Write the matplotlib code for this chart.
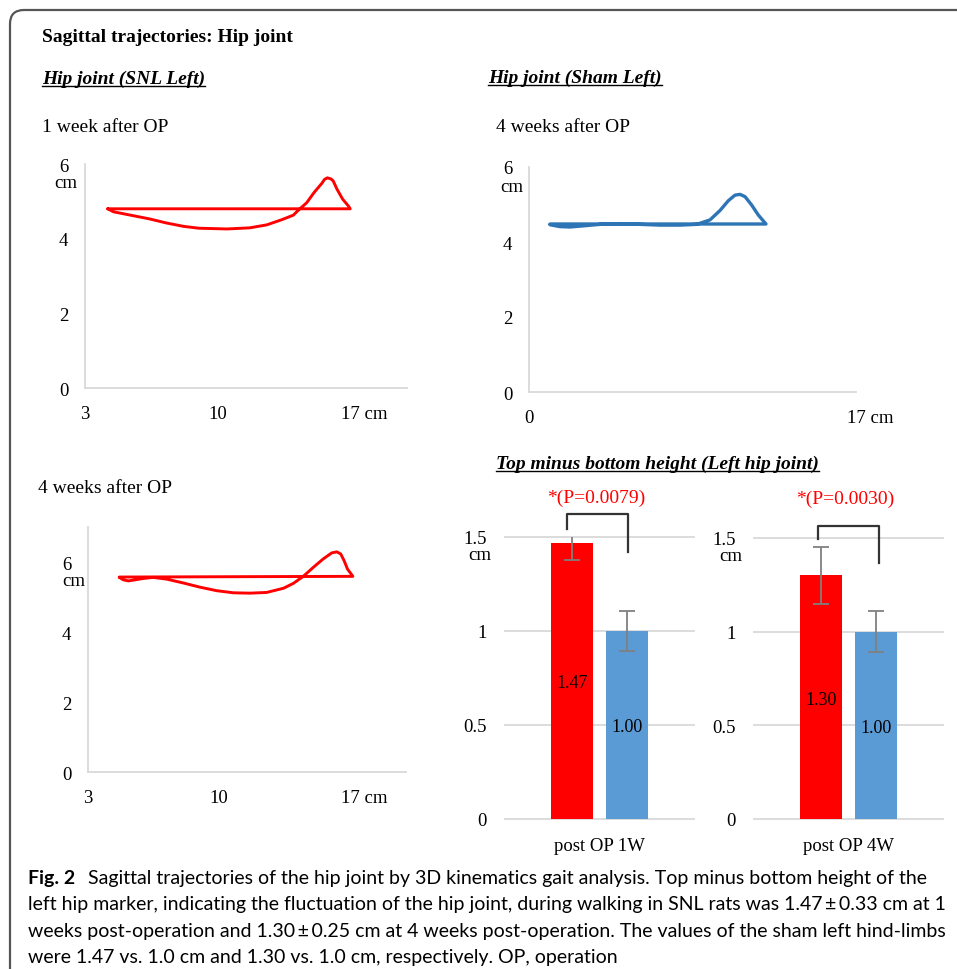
import matplotlib
matplotlib.use('Agg')
import matplotlib.pyplot as plt
from matplotlib.patches import FancyBboxPatch
from matplotlib.lines import Line2D
from matplotlib.transforms import IdentityTransform, ScaledTranslation

# hip marker path, SNL left, 1 week after OP (forward position / height, cm)
snl1w_x = [4.2, 4.5, 5.5, 6.4, 7.3, 8.2, 9.0, 10.5, 11.7, 12.6, 13.4, 14.0, 14.3,
           14.7, 15.1, 15.5, 15.65, 15.8, 15.98, 16.1, 16.3, 16.6, 16.9, 17.0, 4.2]
snl1w_y = [4.80, 4.72, 4.62, 4.53, 4.42, 4.33, 4.28, 4.26, 4.29, 4.37, 4.51, 4.63, 4.78,
           4.96, 5.24, 5.48, 5.59, 5.63, 5.60, 5.55, 5.33, 5.06, 4.88, 4.80, 4.80]

# SNL left, 4 weeks after OP
snl4w_x = [4.67, 4.89, 5.16, 5.51, 5.96, 6.49, 7.21, 8.10, 8.99, 9.88, 10.77, 11.66, 12.55,
           13.45, 13.98, 14.51, 15.05, 15.58, 16.03, 16.30, 16.51, 16.69, 16.87, 17.16, 4.67]
snl4w_y = [5.56, 5.49, 5.46, 5.49, 5.53, 5.56, 5.51, 5.40, 5.28, 5.18, 5.12, 5.11, 5.13,
           5.25, 5.39, 5.59, 5.85, 6.09, 6.26, 6.29, 6.23, 6.04, 5.80, 5.59, 5.57]

# sham left, 4 weeks after OP
sham4w_x = [1.09, 1.61, 2.13, 2.82, 3.69, 4.73, 5.77, 6.81, 7.85, 8.72, 9.41, 9.93, 10.36,
            10.71, 10.97, 11.23, 11.57, 11.92, 12.32, 1.09]
sham4w_y = [4.46, 4.41, 4.40, 4.43, 4.47, 4.49, 4.47, 4.45, 4.45, 4.47, 4.59, 4.84, 5.10,
            5.25, 5.27, 5.21, 4.99, 4.72, 4.48, 4.48]

# top minus bottom height of the left hip (cm)
groups = ['post OP 1W', 'post OP 4W']
snl_mean = [1.47, 1.30]
snl_err = [0.09, 0.15]
sham_mean = [1.00, 1.00]
sham_err = [0.105, 0.11]
p_labels = ['*(P=0.0079)', '*(P=0.0030)']

caption_lines = [
    'Sagittal trajectories of the hip joint by 3D kinematics gait analysis. Top minus bottom height of the',
    'left hip marker, indicating the fluctuation of the hip joint, during walking in SNL rats was 1.47\u2009\u00b1\u20090.33 cm at 1',
    'weeks post-operation and 1.30\u2009\u00b1\u20090.25 cm at 4 weeks post-operation. The values of the sham left hind-limbs',
    'were 1.47 vs. 1.0 cm and 1.30 vs. 1.0 cm, respectively. OP, operation',
]

RED = '#ff0000'
BLUE_LINE = '#2e75b6'
BLUE_BAR = '#5b9bd5'
GRID = '#d9d9d9'

plt.rcParams['font.family'] = ['Liberation Serif', 'DejaVu Serif']
W, H = 957, 970
fig = plt.figure(figsize=(W / 100, H / 100), dpi=100)
renderer = fig.canvas.get_renderer()


def px_axes(left, top, right, bottom):
    return fig.add_axes([left / W, 1 - bottom / H, (right - left) / W, (bottom - top) / H])


def ftext(x, y, s, **kw):
    kw.setdefault('va', 'center_baseline')
    kw.setdefault('fontsize', 14)
    return fig.text(x / W, 1 - y / H, s, **kw)


def underlined(x, y, s):
    t = ftext(x, y, s, fontweight='bold', style='italic')
    bb = t.get_window_extent(renderer)
    fig.add_artist(Line2D([bb.x0, bb.x1], [bb.y0 + 1, bb.y0 + 1],
                          transform=IdentityTransform(), color='black', lw=1.0))


def shift_last_label(ax, dx_px):
    lbl = ax.get_xticklabels()[-1]
    lbl.set_ha('left')
    lbl.set_transform(lbl.get_transform() + ScaledTranslation(dx_px / 100, 0, fig.dpi_scale_trans))


def trajectory(box, x, y, color, lw, xlim, xticks, xlabels, ylim, cm_off):
    ax = px_axes(*box)
    ax.plot(x, y, color=color, lw=lw, solid_joinstyle='round', solid_capstyle='round')
    ax.set_xlim(xlim)
    ax.set_ylim(ylim)
    for s in ['top', 'right']:
        ax.spines[s].set_visible(False)
    for s in ['left', 'bottom']:
        ax.spines[s].set_color(GRID)
        ax.spines[s].set_linewidth(1.3)
    ax.set_xticks(xticks, xlabels)
    ax.set_yticks([0, 2, 4, 6])
    ax.tick_params(axis='both', length=0, labelsize=13.5)
    ax.tick_params(axis='y', pad=12)
    ax.tick_params(axis='x', pad=12.5)
    shift_last_label(ax, -9)
    ax.annotate('cm', xy=(0, 6), xycoords=('axes fraction', 'data'), xytext=cm_off,
                textcoords='offset pixels', ha='center', va='center', fontsize=13.5)
    return ax


def bar_panel(box, i, bracket, cm_dx):
    ax = px_axes(*box)
    for v in [0, 0.5, 1, 1.5]:
        ax.axhline(v, color=GRID, lw=1.3, zorder=0, clip_on=False)
    ax.bar(-0.145, snl_mean[i], width=0.225, color=RED, zorder=2)
    ax.bar(0.145, sham_mean[i], width=0.225, color=BLUE_BAR, zorder=2)
    ax.errorbar([-0.145, 0.145], [snl_mean[i], sham_mean[i]], yerr=[snl_err[i], sham_err[i]],
                fmt='none', ecolor='#808080', elinewidth=1.3, capsize=6, capthick=1.3, zorder=3)
    ax.text(-0.145, snl_mean[i] / 2, f'{snl_mean[i]:.2f}', ha='center', va='center_baseline', fontsize=13)
    ax.text(0.145, sham_mean[i] / 2, f'{sham_mean[i]:.2f}', ha='center', va='center_baseline', fontsize=13)
    ax.set_xlim(-0.5, 0.5)
    ax.set_ylim(0, 1.5)
    for s in ax.spines.values():
        s.set_visible(False)
    ax.set_yticks([0, 0.5, 1, 1.5], ['0', '0.5', '1', '1.5'])
    ax.set_xticks([0], [groups[i]])
    ax.tick_params(axis='both', length=0, labelsize=13.5)
    ax.tick_params(axis='y', pad=13)
    ax.tick_params(axis='x', pad=13)
    ax.annotate('cm', xy=(0, 1.5), xycoords=('axes fraction', 'data'), xytext=(cm_dx, -18),
                textcoords='offset pixels', ha='center', va='center', fontsize=13.5)
    x0, x1, top, left_end, right_end = bracket
    ax.plot([x0, x0, x1, x1], [left_end, top, top, right_end], color='#333333', lw=1.6,
            clip_on=False, zorder=4)
    ax.text(-0.02, 1.72, p_labels[i], ha='center', va='center_baseline', fontsize=14, color=RED)
    return ax


# outer frame
fig.add_artist(FancyBboxPatch((10, -60), 1000, H - 11 + 60,
                              boxstyle='round,pad=0,rounding_size=14',
                              transform=IdentityTransform(), fill=False,
                              edgecolor='#555555', lw=1.6))

ftext(42, 36, 'Sagittal trajectories: Hip joint', fontweight='bold')
underlined(42, 77, 'Hip joint (SNL Left)')
underlined(488, 76, 'Hip joint (Sham Left)')
underlined(496, 462, 'Top minus bottom height (Left hip joint)')
ftext(42, 125, '1 week after OP')
ftext(496, 126, '4 weeks after OP')
ftext(38, 487, '4 weeks after OP')

trajectory((85, 165, 407, 389), snl1w_x, snl1w_y, RED, 2.1,
           (3, 20), [3, 10, 17], ['3', '10', '17 cm'], (0, 6), (-19, -19))
trajectory((529, 168, 856, 393), sham4w_x, sham4w_y, BLUE_LINE, 2.4,
           (0, 17), [0, 17], ['0', '17 cm'], (0, 6), (-17, -19))
trajectory((88, 528, 406, 773), snl4w_x, snl4w_y, RED, 2.1,
           (3, 20), [3, 10, 17], ['3', '10', '17 cm'], (0, 7), (-14, -19))

bar_panel((505, 538, 694, 820), 0, (-0.172, 0.151, 1.62, 1.545, 1.418), -25)
bar_panel((754, 539, 943, 820), 1, (-0.161, 0.161, 1.565, 1.495, 1.369), -23)

# caption
cap_font = ['Lato', 'DejaVu Sans']
fig_lbl = ftext(28, 877, 'Fig. 2', family=cap_font, fontweight='bold', fontsize=13)
probe = ftext(28, 903, caption_lines[1], family=cap_font, fontsize=13)
w = probe.get_window_extent(renderer).width
cap_size = 13 * (942 - 28) / w
probe.remove()
fig_lbl.set_fontsize(cap_size)
ftext(88, 877, caption_lines[0], family=cap_font, fontsize=cap_size)
for k, line in enumerate(caption_lines[1:]):
    ftext(28, 903.5 + 26.3 * k, line, family=cap_font, fontsize=cap_size)

fig.savefig('out.png', dpi=100)
